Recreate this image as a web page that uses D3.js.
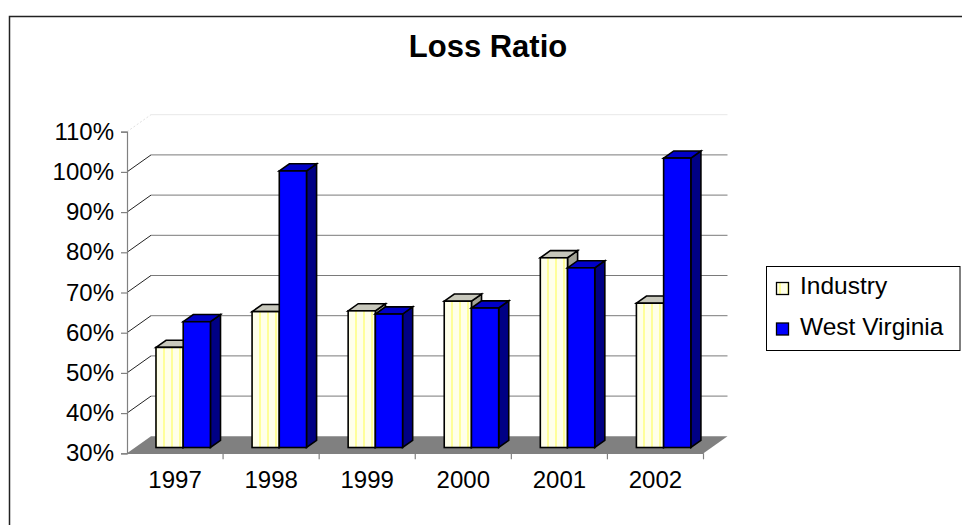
<!DOCTYPE html>
<html>
<head>
<meta charset="utf-8">
<script src="https://cdn.jsdelivr.net/npm/d3@7"></script>
<style>
  html, body { margin: 0; padding: 0; background: #fff; }
  svg { display: block; font-family: "Liberation Sans", Arial, sans-serif; }
</style>
</head>
<body>
<svg id="chart" width="962" height="525"></svg>
<script>
// Loss ratio by year: industry average vs. West Virginia
const years = ["1997", "1998", "1999", "2000", "2001", "2002"];
const seriesNames = ["Industry", "West Virginia"];
const industry = [0.549, 0.638, 0.640, 0.664, 0.772, 0.659];
const westVirginia = [0.613, 0.988, 0.632, 0.647, 0.747, 1.020];
const yTicks = [0.3, 0.4, 0.5, 0.6, 0.7, 0.8, 0.9, 1.0, 1.1];

const svg = d3.select("#chart");

// plot geometry (front plane) and the 3-D depth vector of the floor
const frontLeft = 127, frontRight = 703.5, frontBottom = 453.3, frontTop = 131.7;
const depth = { dx: 24, dy: -17 };
const barFront = 0.34, barBack = 0.76;   // bar position along the depth axis

const x = d3.scaleBand().domain(years).range([frontLeft, frontRight]);
const xSub = d3.scaleBand().domain(seriesNames).range([0, x.bandwidth()]).paddingOuter(0.765);
const y = d3.scaleLinear().domain([0.3, 1.1]).range([frontBottom, frontTop]);

// fills
const defs = svg.append("defs");
const pat = defs.append("pattern")
  .attr("id", "stripes").attr("patternUnits", "userSpaceOnUse")
  .attr("width", 8).attr("height", 8);
pat.append("rect").attr("width", 8).attr("height", 8).attr("fill", "#FFFFEA");
pat.append("rect").attr("x", 3).attr("width", 2).attr("height", 8).attr("fill", "#FFFF99");

const colors = {
  "Industry": { front: "url(#stripes)", top: "#C8C8BC", side: "#A3A396" },
  "West Virginia": { front: "#0000FF", top: "#0000C8", side: "#000084" }
};

// outer chart border
svg.append("rect")
  .attr("x", 9.5).attr("y", 16.5).attr("width", 1200).attr("height", 800)
  .attr("fill", "none").attr("stroke", "#222").attr("stroke-width", 1.5);

// title
svg.append("text")
  .attr("x", 488).attr("y", 57).attr("text-anchor", "middle")
  .attr("font-size", 31).attr("font-weight", "bold").attr("fill", "#000")
  .text("Loss Ratio");

// floor
const floorY = y(0.3);
svg.append("path")
  .attr("d", d3.line()([
    [frontLeft, floorY], [frontRight, floorY],
    [frontRight + depth.dx, floorY + depth.dy], [frontLeft + depth.dx, floorY + depth.dy]
  ]) + "Z")
  .attr("fill", "#808080");

// back-wall gridlines and side-wall diagonals
const grid = svg.append("g");
yTicks.filter(t => t > 0.3).forEach(t => {
  const top = t > 1.05;
  const yf = y(t), yb = y(t) + depth.dy;
  grid.append("line")
    .attr("x1", frontLeft + depth.dx).attr("x2", frontRight + depth.dx)
    .attr("y1", yb).attr("y2", yb)
    .attr("stroke", top ? "#E8E8E8" : "#7A7A7A").attr("stroke-width", 1);
  grid.append("line")
    .attr("x1", frontLeft).attr("y1", yf)
    .attr("x2", frontLeft + depth.dx).attr("y2", yb)
    .attr("stroke", top ? "#E0E0E0" : "#222").attr("stroke-width", 1)
    .attr("stroke-dasharray", top ? "2,2" : null);
});

// bars
const ox = depth.dx * barFront, oy = depth.dy * barFront;
const bdx = depth.dx * (barBack - barFront), bdy = depth.dy * (barBack - barFront);
const rows = [];
years.forEach((yr, i) => {
  rows.push({ year: yr, series: "Industry", value: industry[i] });
  rows.push({ year: yr, series: "West Virginia", value: westVirginia[i] });
});

const bars = svg.append("g")
  .attr("stroke", "#000").attr("stroke-width", 1.6).attr("stroke-linejoin", "miter");
rows.forEach(d => {
  const x0 = x(d.year) + xSub(d.series) + ox;
  const w = xSub.bandwidth();
  const yTop = y(d.value) + oy;
  const yBase = y(0.3) + oy;
  const c = colors[d.series];
  const g = bars.append("g");
  g.append("path")
    .attr("d", d3.line()([[x0 + w, yTop], [x0 + w + bdx, yTop + bdy], [x0 + w + bdx, yBase + bdy], [x0 + w, yBase]]) + "Z")
    .attr("fill", c.side);
  g.append("path")
    .attr("d", d3.line()([[x0, yTop], [x0 + w, yTop], [x0 + w + bdx, yTop + bdy], [x0 + bdx, yTop + bdy]]) + "Z")
    .attr("fill", c.top);
  g.append("rect")
    .attr("x", x0).attr("y", yTop).attr("width", w).attr("height", yBase - yTop)
    .attr("fill", c.front);
});

// value axis
const yAxis = svg.append("g")
  .attr("transform", `translate(${frontLeft},0)`)
  .call(d3.axisLeft(y).tickValues(yTicks).tickFormat(d3.format(".0%")).tickSize(6).tickPadding(7));
yAxis.select(".domain").attr("stroke", "#808080").attr("stroke-width", 1.2);
yAxis.selectAll(".tick line").attr("stroke", "#808080").attr("stroke-width", 1.2);
yAxis.selectAll(".tick text")
  .attr("font-size", 24).attr("fill", "#000").attr("font-family", "Liberation Sans, Arial, sans-serif");

// category axis: labels centred in bands, ticks on band boundaries
const xAxis = svg.append("g")
  .attr("transform", `translate(0,${frontBottom})`)
  .call(d3.axisBottom(x).tickSize(0).tickPadding(18));
xAxis.select(".domain").remove();
xAxis.append("line")
  .attr("x1", frontLeft).attr("x2", frontRight).attr("y1", 0).attr("y2", 0)
  .attr("stroke", "#808080").attr("stroke-width", 1.2);
years.forEach(yr => {
  xAxis.append("line")
    .attr("x1", x(yr) + x.bandwidth()).attr("x2", x(yr) + x.bandwidth())
    .attr("y1", 0).attr("y2", 6)
    .attr("stroke", "#808080").attr("stroke-width", 1.2);
});
xAxis.selectAll(".tick text")
  .attr("font-size", 24).attr("fill", "#000").attr("font-family", "Liberation Sans, Arial, sans-serif");

// legend
const legend = svg.append("g");
legend.append("rect")
  .attr("x", 766.5).attr("y", 266.5).attr("width", 193.5).attr("height", 84)
  .attr("fill", "#fff").attr("stroke", "#000").attr("stroke-width", 1);
seriesNames.forEach((s, i) => {
  const ly = 282.5 + i * 40.5;
  legend.append("rect")
    .attr("x", 776.5).attr("y", ly).attr("width", 12).attr("height", 12)
    .attr("fill", s === "Industry" ? "url(#stripes)" : colors[s].front)
    .attr("stroke", "#000").attr("stroke-width", 1.3);
  legend.append("text")
    .attr("x", 800).attr("y", ly + 11.5)
    .attr("font-size", 24.5).attr("fill", "#000")
    .text(s);
});
</script>
</body>
</html>
